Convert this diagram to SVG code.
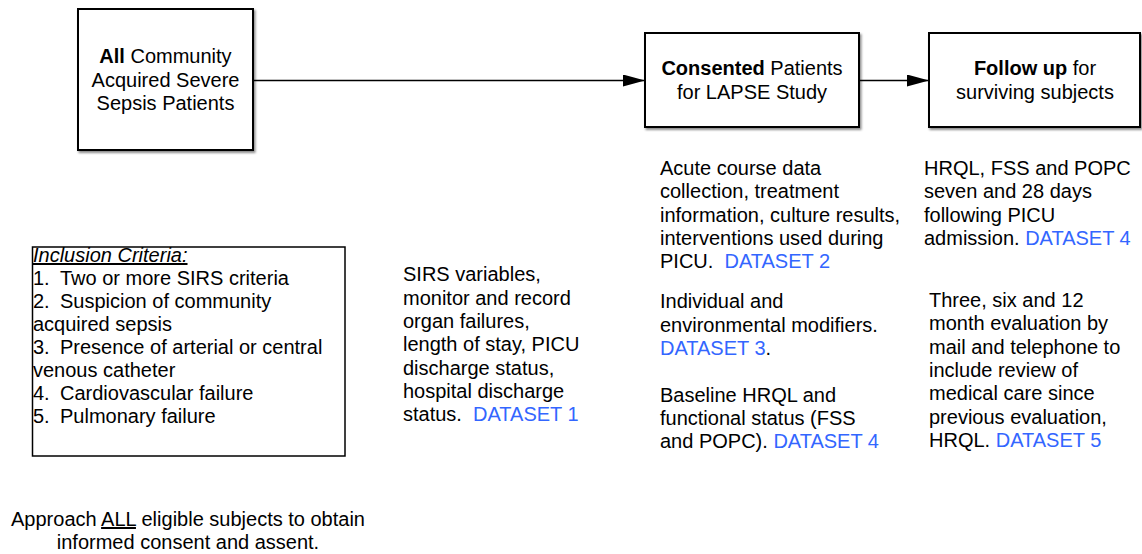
<svg xmlns="http://www.w3.org/2000/svg" width="1142" height="554" viewBox="0 0 1142 554">
<defs>
<filter id="sh" x="-10%" y="-10%" width="130%" height="130%">
<feDropShadow dx="1.5" dy="2" stdDeviation="1.2" flood-color="#000" flood-opacity="0.45"/>
</filter>
<marker id="ah" markerWidth="22" markerHeight="12" refX="22" refY="6" orient="auto" markerUnits="userSpaceOnUse">
<path d="M0,0 L22,6 L0,12 Z" fill="#000"/>
</marker>
<style>
text{font-family:"Liberation Sans",Arial,Helvetica,sans-serif;font-size:20px;fill:#000}
.box{fill:#fff;stroke:#000;stroke-width:2;filter:url(#sh)}
.c{text-anchor:middle}
.b{font-weight:bold}
.ds{fill:#3366ff}
.conn{stroke:#000;stroke-width:1.5;fill:none;marker-end:url(#ah)}
</style>
</defs>
<g id="connectors">
<line class="conn" x1="253" y1="80.5" x2="645" y2="80.5"/>
<line class="conn" x1="859" y1="80.5" x2="929" y2="80.5"/>
</g>
<g id="node-all">
<rect class="box" x="78" y="9" width="175" height="141"/>
<text class="c" x="165.5" y="63"><tspan class="b">All</tspan> Community</text>
<text class="c" x="165.5" y="87">Acquired Severe</text>
<text class="c" x="165.5" y="110">Sepsis Patients</text>
</g>
<g id="node-consented">
<rect class="box" x="645" y="33" width="214" height="94"/>
<text class="c" x="752" y="75"><tspan class="b">Consented</tspan> Patients</text>
<text class="c" x="752" y="99">for LAPSE Study</text>
</g>
<g id="node-followup">
<rect class="box" x="929" y="33" width="211" height="94"/>
<text class="c" x="1035" y="75"><tspan class="b">Follow up</tspan> for</text>
<text class="c" x="1035" y="99">surviving subjects</text>
</g>
<g id="inclusion">
<rect x="32.5" y="247" width="312.5" height="209" fill="#fff" stroke="#000" stroke-width="1.5"/>
<text x="33" y="262" font-style="italic" text-decoration="underline">Inclusion Criteria:</text>
<text x="33" y="285">1.</text><text x="60" y="285">Two or more SIRS criteria</text>
<text x="33" y="308">2.</text><text x="60" y="308">Suspicion of community</text>
<text x="33" y="331">acquired sepsis</text>
<text x="33" y="354">3.</text><text x="60" y="354">Presence of arterial or central</text>
<text x="33" y="377">venous catheter</text>
<text x="33" y="400">4.</text><text x="60" y="400">Cardiovascular failure</text>
<text x="33" y="423">5.</text><text x="60" y="423">Pulmonary failure</text>
</g>
<g id="sirs">
<text x="403" y="281">SIRS variables,</text>
<text x="403" y="305">monitor and record</text>
<text x="403" y="328">organ failures,</text>
<text x="403" y="351">length of stay, PICU</text>
<text x="403" y="375">discharge status,</text>
<text x="403" y="398">hospital discharge</text>
<text x="403" y="421" xml:space="preserve">status.  <tspan class="ds">DATASET 1</tspan></text>
</g>
<g id="acute">
<text x="660" y="175">Acute course data</text>
<text x="660" y="198">collection, treatment</text>
<text x="660" y="222">information, culture results,</text>
<text x="660" y="245">interventions used during</text>
<text x="660" y="268" xml:space="preserve">PICU.  <tspan class="ds">DATASET 2</tspan></text>
<text x="660" y="308">Individual and</text>
<text x="660" y="332">environmental modifiers.</text>
<text x="660" y="355"><tspan class="ds">DATASET 3</tspan>.</text>
<text x="660" y="402">Baseline HRQL and</text>
<text x="660" y="425">functional status (FSS</text>
<text x="660" y="448">and POPC). <tspan class="ds">DATASET 4</tspan></text>
</g>
<g id="followup-text">
<text x="924" y="175">HRQL, FSS and POPC</text>
<text x="924" y="198">seven and 28 days</text>
<text x="924" y="222">following PICU</text>
<text x="924" y="245">admission. <tspan class="ds">DATASET 4</tspan></text>
<text x="929" y="307">Three, six and 12</text>
<text x="929" y="330">month evaluation by</text>
<text x="929" y="354">mail and telephone to</text>
<text x="929" y="377">include review of</text>
<text x="929" y="400">medical care since</text>
<text x="929" y="424">previous evaluation,</text>
<text x="929" y="447">HRQL. <tspan class="ds">DATASET 5</tspan></text>
</g>
<g id="approach">
<text class="c" x="188" y="526">Approach <tspan text-decoration="underline">ALL</tspan> eligible subjects to obtain</text>
<text class="c" x="188" y="549">informed consent and assent.</text>
</g>
</svg>
